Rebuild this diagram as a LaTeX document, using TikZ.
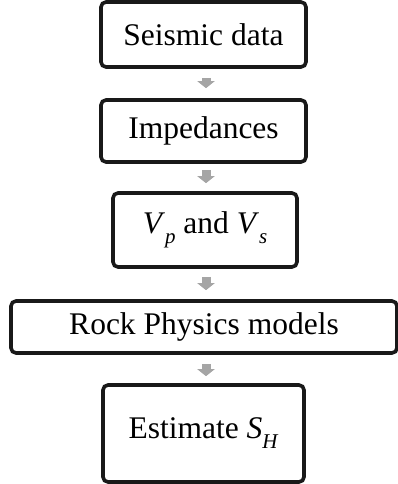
\documentclass[tikz,border=0pt]{standalone}
\usepackage{fontspec}
\setmainfont{Liberation Serif}
\usetikzlibrary{arrows.meta}
\newcommand{\lsub}[1]{\raisebox{-0.32em}{\fontsize{21pt}{21pt}\selectfont\textit{#1}}}
\definecolor{arrgray}{HTML}{A5A5A5}
\begin{document}
\begin{tikzpicture}[x=1pt,y=-1pt,
  stepbox/.style={draw=black!90, line width=3.6pt, rounded corners=5pt, inner sep=0pt,
    font=\fontsize{31.5pt}{36pt}\selectfont, align=center},
  flowarrow/.style={draw=arrgray, line width=9pt, -{Triangle[width=17pt,length=7pt]}}]
\useasboundingbox (0,0) rectangle (398,484);
\node[stepbox, minimum width=205pt, minimum height=65pt] (b1) at (203.5,34.5) {Seismic data};
\node[stepbox, minimum width=205pt, minimum height=62pt] (b2) at (203.5,131) {Impedances};
\node[stepbox, minimum width=184pt, minimum height=74pt] (b3) at (205,230) {\textit{V}\lsub{p} and \textit{V}\lsub{s}};
\node[stepbox, minimum width=386pt, minimum height=52pt] (b4) at (204,327) {Rock Physics models};
\node[stepbox, minimum width=201pt, minimum height=97pt] (b5) at (203.5,433.5) {Estimate \textit{S}\lsub{H}};
\draw[flowarrow, shorten <=9pt, shorten >=10pt] ([xshift=2.5pt]b1.south) -- ([xshift=2.5pt]b2.north);
\draw[flowarrow, shorten <=6pt, shorten >=8pt] ([xshift=2.5pt]b2.south) -- ([xshift=1pt]b3.north);
\draw[flowarrow, shorten <=8pt, shorten >=9pt] ([xshift=1pt]b3.south) -- ([xshift=2pt]b4.north);
\draw[flowarrow, shorten <=9pt, shorten >=7pt] ([xshift=2pt]b4.south) -- ([xshift=2.5pt]b5.north);
\end{tikzpicture}
\end{document}
